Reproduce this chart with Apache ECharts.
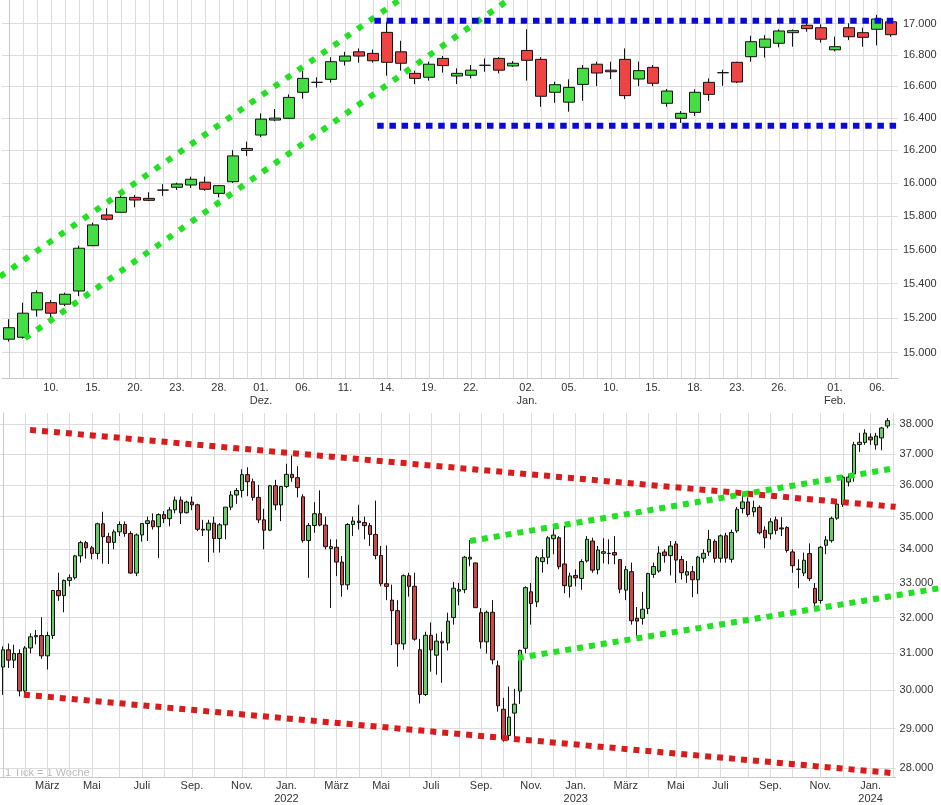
<!DOCTYPE html>
<html><head><meta charset="utf-8">
<script src="https://cdn.jsdelivr.net/npm/echarts@6/dist/echarts.min.js"></script>
<style>html,body{margin:0;padding:0;background:#fff}#c{width:941px;height:805px}</style>
</head><body><div id="c"></div>
<script>
// ---------- Top panel: daily candles ----------
const dayDates = ['2023-11-07','2023-11-08','2023-11-09','2023-11-10','2023-11-13','2023-11-14','2023-11-15','2023-11-16','2023-11-17','2023-11-20','2023-11-21','2023-11-22','2023-11-23','2023-11-24','2023-11-27','2023-11-28','2023-11-29','2023-11-30','2023-12-01','2023-12-04','2023-12-05','2023-12-06','2023-12-07','2023-12-08','2023-12-11','2023-12-12','2023-12-13','2023-12-14','2023-12-15','2023-12-18','2023-12-19','2023-12-20','2023-12-21','2023-12-22','2023-12-27','2023-12-28','2023-12-29','2024-01-02','2024-01-03','2024-01-04','2024-01-05','2024-01-08','2024-01-09','2024-01-10','2024-01-11','2024-01-12','2024-01-15','2024-01-16','2024-01-17','2024-01-18','2024-01-19','2024-01-22','2024-01-23','2024-01-24','2024-01-25','2024-01-26','2024-01-29','2024-01-30','2024-01-31','2024-02-01','2024-02-02','2024-02-05','2024-02-06','2024-02-07'];
// [open, close, low, high]
const dayOHLC = [
[15077,15143,15063,15192],[15088,15227,15080,15288],[15246,15346,15207,15360],[15288,15227,15169,15303],
[15279,15337,15268,15346],[15356,15608,15326,15623],[15623,15747,15620,15761],[15807,15781,15773,15847],
[15823,15913,15820,15941],[15913,15897,15853,15928],[15907,15895,15890,15944],[15957,15957,15922,15993],
[15974,15994,15958,16002],[15988,16023,15970,16039],[16005,15962,15953,16039],[15937,15984,15913,15988],
[16008,16166,16000,16202],[16200,16212,16166,16254],[16295,16394,16282,16430],[16388,16400,16380,16457],
[16399,16530,16395,16549],[16562,16650,16522,16699],[16625,16625,16592,16657],[16644,16756,16623,16784],
[16760,16792,16731,16819],[16819,16792,16750,16841],[16809,16762,16750,16834],[16944,16752,16667,17012],
[16819,16746,16699,16890],[16682,16650,16614,16699],[16657,16740,16636,16756],[16777,16731,16686,16792],
[16665,16682,16614,16714],[16670,16702,16650,16735],[16733,16733,16692,16777],[16777,16702,16682,16785],
[16729,16746,16723,16760],[16828,16765,16636,16965],[16771,16537,16471,16784],[16562,16610,16496,16629],
[16500,16593,16440,16644],[16612,16714,16508,16735],[16740,16684,16601,16756],[16702,16692,16646,16756],
[16771,16541,16519,16841],[16646,16699,16601,16756],[16720,16619,16601,16735],[16493,16570,16471,16583],
[16399,16430,16370,16444],[16436,16562,16413,16581],[16625,16549,16508,16650],[16686,16686,16603,16705],
[16752,16627,16620,16756],[16788,16884,16756,16922],[16848,16901,16782,16926],[16874,16953,16848,16964],
[16942,16955,16852,16963],[16990,16968,16948,17003],[16974,16900,16878,16996],[16832,16852,16822,16917],
[16974,16916,16894,17003],[16942,16912,16852,16974],[16964,17030,16860,17057],[17012,16929,16915,17023]
];
const dayTickDates = ['2023-11-10','2023-11-15','2023-11-20','2023-11-23','2023-11-28','2023-12-01','2023-12-06','2023-12-11','2023-12-14','2023-12-19','2023-12-22','2024-01-02','2024-01-05','2024-01-10','2024-01-15','2024-01-18','2024-01-23','2024-01-26','2024-02-01','2024-02-06'];
const dayTickLabels = ['10.','15.','20.','23.','28.','01.\nDez.','06.','11.','14.','19.','22.','02.\nJan.','05.','10.','15.','18.','23.','26.','01.\nFeb.','06.'];
const dayPriceTicks = [15000,15200,15400,15600,15800,16000,16200,16400,16600,16800,17000];
// trend lines: [dayIndex, price]
const dayChannelUpper = [[-0.65,15440],[31.5,17384]];
const dayChannelLower = [[1.14,15082],[39.4,17395]];
const dayResistance = [[26.1,17019],[63.5,17019]];
const daySupport = [[26.3,16353],[63.5,16353]];

// ---------- Bottom panel: weekly candles ----------
const weekFirstMonday = '2021-01-04';
const weekCount = 161; // last slot empty
const weekOHLC = [
[30627,31098,29881,31193],[31098,30814,30600,31272],[30814,30997,30600,31240],[30997,29983,29840,31112],
[29983,31148,29900,31200],[31148,31458,31000,31555],[31458,31494,31250,31650],[31494,30932,30850,32009],
[30932,31496,30560,31600],[31496,32779,31400,32793],[32779,32628,32480,33300],[32628,33073,32150,33100],
[33073,33153,32900,33250],[33153,33801,33100,33830],[33801,34200,33600,34256],[34200,34043,33720,34256],
[34043,33875,33700,34100],[33875,34778,33700,34811],[34778,34382,33570,35150],[34382,34208,33560,34500],
[34208,34529,34000,34600],[34529,34756,34400,34850],[34756,34480,34380,34850],[34480,33290,33271,34550],
[33290,34434,33200,34480],[34434,34786,34230,34800],[34786,34870,34250,35000],[34870,34688,34600,35100],
[34688,35062,33741,35100],[35062,34935,34800,35171],[34935,35209,34700,35300],[35209,35515,35100,35630],
[35515,35120,34770,35630],[35120,35455,35100,35500],[35455,35369,35200,35630],[35369,34608,34550,35400],
[34608,34584,34400,34900],[34584,34798,33613,34900],[34798,34326,33900,35000],[34326,34746,33900,34800],
[34746,35295,34300,35300],[35295,35677,35200,35800],[35677,35820,35400,35900],[35820,36328,35600,36500],
[36328,36100,35640,36565],[36100,35602,35500,36200],[35602,34899,34800,36000],[34899,34580,34000,35245],
[34580,35971,34550,36000],[35971,35365,35200,36160],[35365,35950,34860,35960],[35950,36338,35900,36680],
[36338,36231,36100,36952],[36231,35912,35600,36600],[35620,34265,34200,35700],[34265,34725,33150,34800],
[34725,35089,34500,35450],[35089,34738,34700,35824],[34738,34079,34000,35000],[34020,34080,32272,34300],
[34059,33615,33200,34300],[33615,32944,32600,33800],[32944,34755,32800,34800],[34755,34862,34400,35000],
[34862,34818,34600,35370],[34818,34721,34300,35000],[34721,34451,34100,34800],[34451,33811,33700,35500],
[33811,32977,32900,34100],[32977,32899,32500,34117],[32500,32197,31229,32950],[32197,31262,30635,32500],
[31262,33213,31100,33250],[33213,32900,32600,33300],[32900,31393,31350,33300],[31100,29888,29653,31400],
[29888,31501,29850,31600],[31501,31097,30500,31860],[30950,31338,30420,31550],[31338,31288,30200,31600],
[31288,31899,31080,32140],[32000,32845,31800,33030],[32760,32803,32350,33000],[32803,33761,32700,33800],
[33761,33706,33490,34281],[33590,32283,32280,33600],[32140,31318,31130,32270],[31318,32151,31000,32200],
[32151,30822,30700,32500],[30660,29590,29440,30800],[29500,28726,28660,29800],[28820,29297,28700,30100],
[29400,29635,28660,30040],[29980,31083,29640,31100],[31140,32862,31000,32900],[32740,32403,31800,33000],
[32450,33748,32300,33800],[33630,33746,33300,34000],[33760,34347,33550,34400],[34320,34430,33850,34660],
[34350,33477,33400,34400],[33560,32920,32700,34712],[32900,33204,32573,33300],[33220,33147,32900,33400],
[33130,33631,32800,33700],[33650,34303,33600,34400],[34250,33375,33300,34350],[33390,33978,33250,34100],
[33880,33926,33580,34335],[33880,33870,33550,34300],[33900,33827,33550,34400],[33690,32817,32700,33700],
[32790,33391,32500,33500],[33330,31910,31800,33600],[31980,31900,31430,32300],[31980,32238,31800,32740],
[32260,33274,32100,33300],[33250,33485,33150,33600],[33350,33886,33300,34090],[33920,33809,33600,34000],
[33810,34098,33220,34250],[34160,33675,33000,34250],[33690,33301,33100,33800],[33230,33330,33000,33650],
[33330,33093,32586,33500],[33093,33763,32680,33800],[33730,33877,33600,34000],[33920,34299,33800,34588],
[34240,33727,33600,34300],[33730,34408,33600,34450],[34410,33735,33600,34500],[33700,34509,33600,34600],
[34560,35228,34500,35300],[35250,35459,35100,35679],[35459,35066,35000,35600],[35150,35281,35000,35500],
[35290,34501,34450,35350],[34580,34347,34030,34700],[34470,34838,34300,34950],[34900,34577,34450,35000],
[34650,34618,34400,34980],[34660,33964,33900,34700],[33920,33508,33300,34000],[33400,33407,32846,33700],
[33290,33670,33200,33900],[33870,33127,33050,34180],[32840,32418,32327,33000],[32490,34061,32400,34100],
[34120,34283,33850,34400],[34260,34947,34200,35000],[34950,35390,34900,35500],[35380,36246,35300,36300],
[36090,36248,35950,36350],[36350,37306,36100,37400],[37310,37386,37070,37700],[37380,37690,37300,37820],
[37560,37466,37300,37680],[37300,37593,37140,37700],[37530,37864,37122,37900],[37930,38109,37850,38200]
];
const weekPriceTicks = [28000,29000,30000,31000,32000,33000,34000,35000,36000,37000,38000];
const monthNames = ['Jan.','Feb.','März','Apr.','Mai','Juni','Juli','Aug.','Sep.','Okt.','Nov.','Dez.'];
// trend lines: [weekIndex, price]
const weekRedUpper = [[4.9,37800],[160.5,35304]];
const weekRedLower = [[3.8,29884],[160.4,27870]];
const weekGreenUpper = [[84.0,34251],[160.5,36540]];
const weekGreenLower = [[92.6,30928],[168.7,32895]];

// ---------- build ----------
const DAY = 864e5;
const weekDates = [];
for (let i = 0; i < weekCount; i++) {
  weekDates.push(new Date(Date.parse(weekFirstMonday + 'T00:00:00Z') + i * 7 * DAY).toISOString().slice(0, 10));
}
function monthStartInfo(iso) {
  const m = new Date(iso + 'T00:00:00Z');
  const s = new Date(m.getTime() + 6 * DAY);
  if (m.getUTCDate() === 1) return {month: m.getUTCMonth(), year: m.getUTCFullYear()};
  if (s.getUTCMonth() !== m.getUTCMonth()) return {month: s.getUTCMonth(), year: s.getUTCFullYear()};
  return null;
}
const fmt = v => String(Math.round(v)).replace(/\B(?=(\d{3})+(?!\d))/g, '.');
const FONT = 'Liberation Sans, Arial, sans-serif';
const lab = {color: '#333', fontSize: 11, fontFamily: FONT, lineHeight: 13};
const grid = {color: '#dcdcdc', width: 1};

const W_GRID = 895.6;                   // bottom plot width for weekCount slots
const W_FULL = 941;                     // full canvas width (overlay grid)
const fullMax = -0.5 + W_FULL / (W_GRID / weekCount);

function trend(data, color, xi, yi, dash) {
  return {type: 'line', xAxisIndex: xi, yAxisIndex: yi, data: data, showSymbol: false, symbol: 'none',
    silent: true, clip: true, z: 5,
    lineStyle: {color: color, width: 6, type: dash || [6, 6], cap: 'butt'}};
}

const chart = echarts.init(document.getElementById('c'), null, {renderer: 'canvas'});
chart.setOption({
  animation: false,
  backgroundColor: '#fff',
  grid: [
    {left: 2, top: 0, width: 896, height: 378},
    {left: 0, top: 413, width: W_GRID, height: 367},
    {left: 0, top: 413, width: W_FULL, height: 367}
  ],
  xAxis: [
    {type: 'category', gridIndex: 0, data: dayDates, boundaryGap: true,
      axisLine: {show: true, lineStyle: {color: '#c8c8c8'}}, axisTick: {show: false},
      splitLine: {show: true, interval: 0, alignWithLabel: true, lineStyle: grid},
      axisLabel: Object.assign({}, lab, {margin: 3,
        interval: (i, v) => dayTickDates.indexOf(v) >= 0,
        formatter: v => { const k = dayTickDates.indexOf(v); return k >= 0 ? dayTickLabels[k] : ''; }})},
    {type: 'value', gridIndex: 0, min: -0.5, max: 63.5, show: false},
    {type: 'category', gridIndex: 1, data: weekDates, boundaryGap: true,
      axisLine: {show: true, lineStyle: {color: '#c8c8c8'}}, axisTick: {show: false},
      splitLine: {show: true, alignWithLabel: true, interval: (i, v) => !!monthStartInfo(v), lineStyle: grid},
      axisLabel: Object.assign({}, lab, {margin: 2,
        interval: (i, v) => { const m = monthStartInfo(v); return !!m && m.month % 2 === 0; },
        formatter: v => { const m = monthStartInfo(v); if (!m) return ''; return m.month === 0 ? monthNames[0] + '\n' + m.year : monthNames[m.month]; }})},
    {type: 'value', gridIndex: 1, min: -0.5, max: 160.5, show: false},
    {type: 'value', gridIndex: 2, min: -0.5, max: fullMax, show: false}
  ],
  yAxis: [
    {type: 'log', logBase: 10, gridIndex: 0, position: 'right', min: 14856, max: 17154,
      axisLine: {show: true, lineStyle: {color: '#c8c8c8'}},
      axisTick: {show: false, customValues: dayPriceTicks},
      axisLabel: Object.assign({}, lab, {margin: 5, customValues: dayPriceTicks, formatter: fmt}),
      splitLine: {show: true, lineStyle: grid}},
    {type: 'log', logBase: 10, gridIndex: 1, position: 'right', min: 27779, max: 38370,
      axisLine: {show: true, lineStyle: {color: '#c8c8c8'}},
      axisTick: {show: false, customValues: weekPriceTicks},
      axisLabel: Object.assign({}, lab, {margin: 4, customValues: weekPriceTicks, formatter: fmt}),
      splitLine: {show: true, lineStyle: grid}},
    {type: 'log', logBase: 10, gridIndex: 2, min: 27779, max: 38370, show: false, splitLine: {show: false}}
  ],
  graphic: [{type: 'text', left: 5, top: 767, silent: true,
    style: {text: '1 Tick = 1 Woche', fill: '#b8b8b8', font: '11px ' + FONT}}],
  series: [
    {type: 'candlestick', xAxisIndex: 0, yAxisIndex: 0, data: dayOHLC, barWidth: 12, z: 3,
      itemStyle: {color: '#44dd44', color0: '#ee4444', borderColor: '#111', borderColor0: '#111', borderWidth: 1}},
    {type: 'candlestick', xAxisIndex: 2, yAxisIndex: 1, data: weekOHLC, barWidth: 4, z: 3,
      itemStyle: {color: '#66cc66', color0: '#cc4848', borderColor: '#111', borderColor0: '#111', borderWidth: 1}},
    trend(dayChannelUpper, '#22e022', 1, 0, [6, 8.5]),
    trend(dayChannelLower, '#22e022', 1, 0, [6, 8.5]),
    trend(dayResistance, '#0a0ad8', 1, 0, [6.5, 5.7]),
    trend(daySupport, '#0a0ad8', 1, 0, [6.5, 5.7]),
    trend(weekRedUpper, '#d81c1c', 3, 1),
    trend(weekRedLower, '#d81c1c', 3, 1),
    trend(weekGreenUpper, '#22e022', 3, 1),
    trend(weekGreenLower, '#22e022', 4, 2)
  ]
});
</script>
</body></html>
